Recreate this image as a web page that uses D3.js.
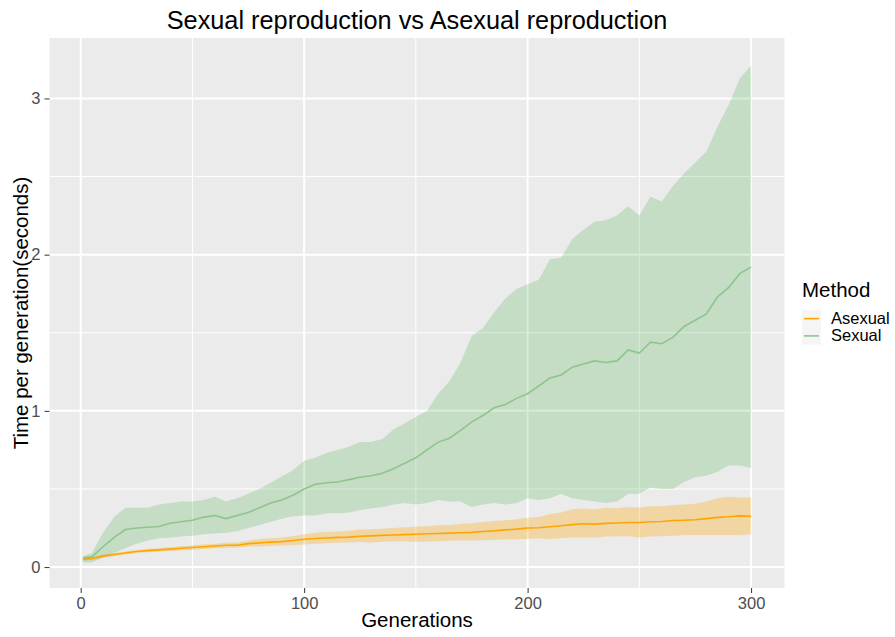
<!DOCTYPE html>
<html><head><meta charset="utf-8">
<script src="https://cdn.jsdelivr.net/npm/d3@7"></script>
<style>body{margin:0;background:#fff}svg{display:block;font-family:"Liberation Sans",Arial,sans-serif}</style>
</head><body><svg id="c" width="895" height="637"></svg>
<script>
const generations = [1,5,10,15,20,25,30,35,40,45,50,55,60,65,70,75,80,85,90,95,100,105,110,115,120,125,130,135,140,145,150,155,160,165,170,175,180,185,190,195,200,205,210,215,220,225,230,235,240,245,250,255,260,265,270,275,280,285,290,295,300];
const sexualMean = [0.06,0.065,0.13,0.19,0.24,0.25,0.255,0.26,0.28,0.29,0.30,0.32,0.33,0.31,0.33,0.35,0.38,0.41,0.43,0.46,0.50,0.53,0.54,0.545,0.56,0.575,0.585,0.60,0.63,0.665,0.70,0.75,0.80,0.825,0.875,0.93,0.97,1.02,1.04,1.08,1.11,1.16,1.21,1.23,1.28,1.30,1.32,1.31,1.32,1.39,1.37,1.44,1.43,1.47,1.54,1.58,1.62,1.73,1.79,1.88,1.92];
const sexualUpper = [0.07,0.09,0.22,0.32,0.38,0.38,0.38,0.40,0.41,0.42,0.42,0.43,0.45,0.42,0.44,0.47,0.50,0.54,0.58,0.62,0.68,0.70,0.73,0.75,0.77,0.80,0.80,0.82,0.88,0.92,0.96,1.00,1.11,1.19,1.31,1.48,1.53,1.63,1.72,1.78,1.81,1.84,1.97,1.98,2.10,2.16,2.21,2.22,2.25,2.31,2.25,2.37,2.34,2.44,2.52,2.59,2.66,2.82,2.96,3.13,3.21];
const sexualLower = [0.03,0.03,0.06,0.09,0.12,0.15,0.17,0.185,0.19,0.195,0.20,0.21,0.215,0.22,0.23,0.25,0.27,0.29,0.31,0.325,0.33,0.33,0.345,0.345,0.35,0.365,0.375,0.385,0.40,0.41,0.40,0.41,0.43,0.42,0.42,0.385,0.40,0.41,0.40,0.41,0.44,0.43,0.44,0.47,0.44,0.43,0.42,0.41,0.42,0.47,0.47,0.51,0.50,0.50,0.545,0.575,0.585,0.61,0.65,0.65,0.635];
const asexualMean = [0.05,0.055,0.07,0.08,0.09,0.10,0.105,0.11,0.115,0.12,0.125,0.13,0.135,0.14,0.14,0.15,0.155,0.16,0.163,0.17,0.178,0.183,0.186,0.19,0.192,0.197,0.20,0.203,0.205,0.208,0.21,0.213,0.215,0.217,0.22,0.222,0.228,0.232,0.238,0.243,0.25,0.252,0.258,0.265,0.272,0.277,0.275,0.28,0.282,0.285,0.285,0.29,0.292,0.298,0.30,0.303,0.31,0.318,0.322,0.328,0.325];
const asexualUpper = [0.06,0.065,0.08,0.09,0.10,0.11,0.118,0.12,0.128,0.133,0.14,0.145,0.15,0.155,0.158,0.17,0.18,0.185,0.19,0.198,0.21,0.22,0.225,0.228,0.232,0.24,0.242,0.245,0.25,0.255,0.26,0.262,0.268,0.27,0.275,0.28,0.288,0.295,0.30,0.305,0.315,0.32,0.34,0.35,0.37,0.375,0.37,0.38,0.378,0.385,0.382,0.39,0.39,0.395,0.40,0.405,0.42,0.44,0.45,0.445,0.445];
const asexualLower = [0.04,0.045,0.06,0.07,0.08,0.09,0.095,0.10,0.103,0.108,0.11,0.115,0.12,0.122,0.125,0.13,0.132,0.135,0.138,0.14,0.145,0.15,0.152,0.155,0.158,0.16,0.158,0.162,0.163,0.165,0.16,0.163,0.165,0.168,0.17,0.17,0.172,0.175,0.177,0.178,0.18,0.185,0.18,0.185,0.19,0.19,0.188,0.195,0.195,0.198,0.19,0.195,0.198,0.20,0.205,0.205,0.205,0.205,0.205,0.205,0.21];
const methods = ["Asexual","Sexual"];
const xTicks = [0,100,200,300];
const xMinor = [50,150,250];
const yTicks = [0,1,2,3];
const yMinor = [0.5,1.5,2.5];

const series = [
  {name:"Asexual", mean:asexualMean, lo:asexualLower, hi:asexualUpper, line:"#ffa500", fill:"#ffa500", op:0.3},
  {name:"Sexual", mean:sexualMean, lo:sexualLower, hi:sexualUpper, line:"#8cc68c", fill:"#2e9e2e", op:0.2}
];

const svg = d3.select("#c");
const P = {l:49.5, r:784.5, t:38, b:588};
const x = d3.scaleLinear().domain([-13.95,314.95]).range([P.l,P.r]);
const y = d3.scaleLinear().domain([-0.134,3.387]).range([P.b,P.t]);

svg.append("rect").attr("x",P.l).attr("y",P.t).attr("width",P.r-P.l).attr("height",P.b-P.t).attr("fill","#ebebeb");
const g = svg.append("g");
g.selectAll(".xm").data(xMinor).join("line").attr("x1",d=>x(d)).attr("x2",d=>x(d)).attr("y1",P.t).attr("y2",P.b).attr("stroke","#fff").attr("stroke-width",1);
g.selectAll(".ym").data(yMinor).join("line").attr("y1",d=>y(d)).attr("y2",d=>y(d)).attr("x1",P.l).attr("x2",P.r).attr("stroke","#fff").attr("stroke-width",1);
g.selectAll(".xM").data(xTicks).join("line").attr("x1",d=>x(d)).attr("x2",d=>x(d)).attr("y1",P.t).attr("y2",P.b).attr("stroke","#fff").attr("stroke-width",2);
g.selectAll(".yM").data(yTicks).join("line").attr("y1",d=>y(d)).attr("y2",d=>y(d)).attr("x1",P.l).attr("x2",P.r).attr("stroke","#fff").attr("stroke-width",2);

const idx = generations.map((d,i)=>i);
series.forEach(s=>{
  const area = d3.area().x(i=>x(generations[i])).y0(i=>y(s.lo[i])).y1(i=>y(s.hi[i]));
  svg.append("path").attr("d",area(idx)).attr("fill",s.fill).attr("fill-opacity",s.op);
});
series.forEach(s=>{
  const line = d3.line().x(i=>x(generations[i])).y(i=>y(s.mean[i]));
  svg.append("path").attr("d",line(idx)).attr("fill","none").attr("stroke",s.line).attr("stroke-width",1.6);
});

// axes
const xa = svg.append("g").attr("transform",`translate(0,${P.b})`).call(d3.axisBottom(x).tickValues(xTicks).tickFormat(d3.format("d")).tickSize(5).tickPadding(4));
const ya = svg.append("g").attr("transform",`translate(${P.l},0)`).call(d3.axisLeft(y).tickValues(yTicks).tickFormat(d3.format("d")).tickSize(5).tickPadding(4));
[xa,ya].forEach(a=>{
  a.select(".domain").remove();
  a.selectAll(".tick line").attr("stroke","#333").attr("stroke-width",1);
  a.selectAll(".tick text").attr("fill","#4d4d4d").style("font-size","16.5px").style("font-family",'"Liberation Sans",Arial,sans-serif');
});

svg.append("text").attr("x",(P.l+P.r)/2).attr("y",29).attr("text-anchor","middle").style("font-size","25.3px").attr("fill","#000").text("Sexual reproduction vs Asexual reproduction");
svg.append("text").attr("x",(P.l+P.r)/2).attr("y",627).attr("text-anchor","middle").style("font-size","20.5px").text("Generations");
svg.append("text").attr("transform",`translate(28,${(P.t+P.b)/2}) rotate(-90)`).attr("text-anchor","middle").style("font-size","20.5px").text("Time per generation(seconds)");

// legend
const lg = svg.append("g");
lg.append("text").attr("x",802).attr("y",297).style("font-size","20.5px").text("Method");
methods.forEach((m,i)=>{
  const s = series.find(d=>d.name===m);
  const yy = 310 + i*17.3;
  lg.append("rect").attr("x",802).attr("y",yy).attr("width",19).attr("height",17.3).attr("fill","#f5f5f5");
  lg.append("line").attr("x1",804).attr("x2",819).attr("y1",yy+8.6).attr("y2",yy+8.6).attr("stroke",s.line).attr("stroke-width",1.6);
  lg.append("text").attr("x",831).attr("y",yy+14).style("font-size","16.5px").text(m);
});
</script></body></html>
